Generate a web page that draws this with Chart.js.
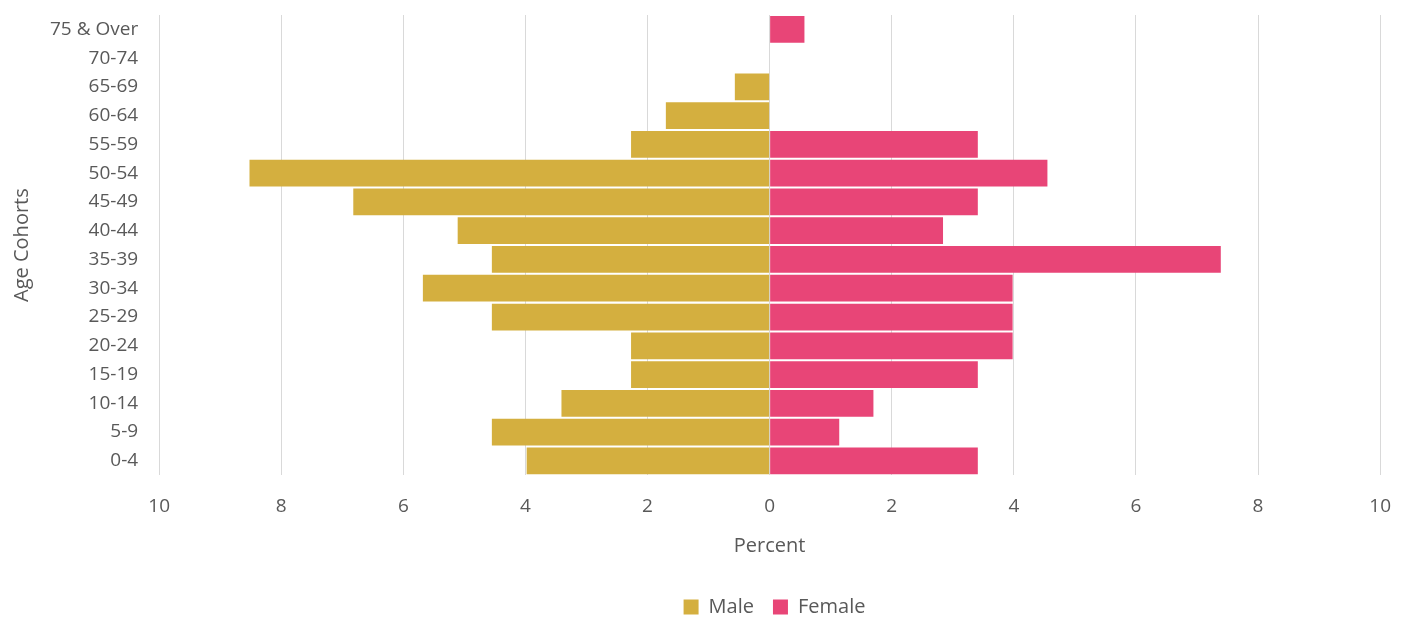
<!DOCTYPE html>
<html>
<head>
<meta charset="utf-8">
<script src="https://cdn.jsdelivr.net/npm/chart.js@4/dist/chart.umd.min.js"></script>
<style>
  html, body { margin: 0; padding: 0; background: #fff; }
  #wrap { width: 1411px; height: 620px; }
</style>
</head>
<body>
<div id="wrap"><canvas id="pyramid" width="1411" height="620"></canvas></div>
<script>
// ========== DATA ==========
const ageCohorts = ['75 & Over', '70-74', '65-69', '60-64', '55-59', '50-54', '45-49', '40-44',
    '35-39', '30-34', '25-29', '20-24', '15-19', '10-14', '5-9', '0-4'];
const malePercent = [0, 0, 0.57, 1.70, 2.27, 8.52, 6.82, 5.11, 4.55, 5.68, 4.55, 2.27, 2.27, 3.41, 4.55, 3.98];
const femalePercent = [0.57, 0, 0, 0, 3.41, 4.55, 3.41, 2.84, 7.39, 3.98, 3.98, 3.98, 3.41, 1.70, 1.14, 3.41];
const xTicks = [-10, -8, -6, -4, -2, 0, 2, 4, 6, 8, 10];

// ========== CHART ==========
const textColor = '#595959';
Chart.defaults.font.family = '"Open Sans", "DejaVu Sans", sans-serif';
Chart.defaults.color = textColor;

// legend sits centred under the plot area, not under the whole canvas
const legendShift = {
    id: 'legendShift',
    afterLayout(chart) {
        const lg = chart.legend;
        lg.left += 79;
        lg.right += 79;
    }
};

const ctx = document.getElementById('pyramid').getContext('2d');
new Chart(ctx, {
    type: 'bar',
    data: {
        labels: ageCohorts,
        datasets: [
            {
                label: 'Male',
                data: malePercent.map(v => -v),
                backgroundColor: '#D4AF3F',
                barPercentage: 0.93,
                categoryPercentage: 1
            },
            {
                label: 'Female',
                data: femalePercent,
                backgroundColor: '#E84577',
                barPercentage: 0.93,
                categoryPercentage: 1
            }
        ]
    },
    plugins: [legendShift],
    options: {
        indexAxis: 'y',
        responsive: false,
        animation: false,
        layout: { padding: { left: 10, right: 30, top: 15, bottom: -7 } },
        plugins: {
            tooltip: { enabled: false },
            legend: {
                position: 'bottom',
                labels: {
                    boxWidth: 15,
                    boxHeight: 15,
                    padding: 19,
                    font: { size: 20 },
                    color: textColor
                }
            }
        },
        scales: {
            x: {
                stacked: true,
                min: -10,
                max: 10,
                afterBuildTicks: axis => { axis.ticks = xTicks.map(v => ({ value: v })); },
                ticks: {
                    callback: v => Math.abs(v),
                    font: { size: 19 },
                    padding: 20,
                    color: textColor
                },
                grid: { color: '#d9d9d9', lineWidth: 1, drawTicks: false },
                border: { display: false },
                title: {
                    display: true,
                    text: 'Percent',
                    font: { size: 20 },
                    color: textColor,
                    padding: { top: -4, bottom: 20 }
                }
            },
            y: {
                stacked: true,
                // tick marks hidden, only used as the gap between labels and bars
                grid: { display: false, drawTicks: true, tickLength: 21 },
                border: { display: false },
                ticks: {
                    font: { size: 19 },
                    padding: 0,
                    color: textColor
                },
                title: {
                    display: true,
                    text: 'Age Cohorts',
                    font: { size: 20 },
                    color: textColor,
                    padding: { top: 0, bottom: 16 }
                }
            }
        }
    }
});
</script>
</body>
</html>
